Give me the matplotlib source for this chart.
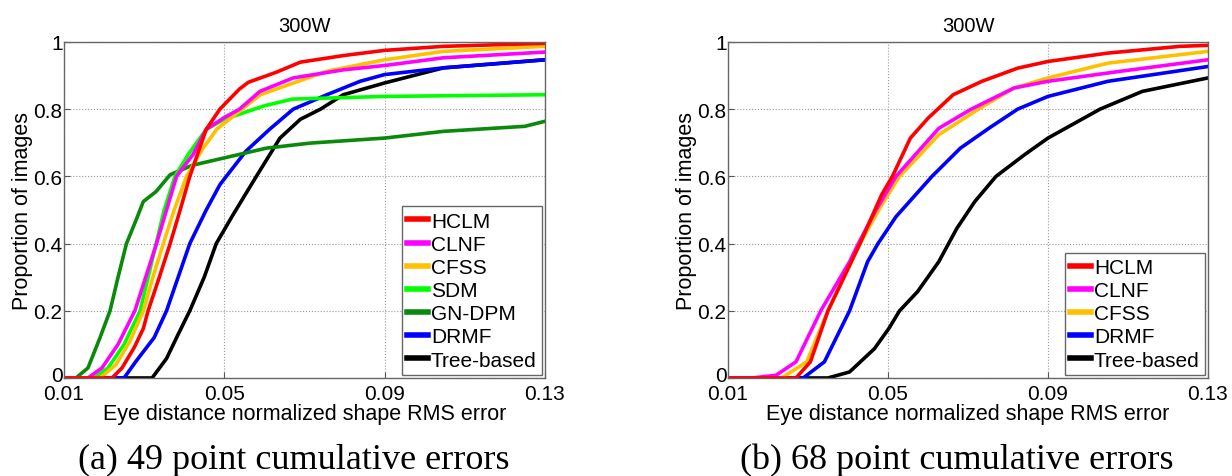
import matplotlib
matplotlib.use("Agg")
import matplotlib.pyplot as plt
from matplotlib.transforms import ScaledTranslation

plt.rcParams['font.family'] = ['Liberation Sans', 'DejaVu Sans']

# ---- 49 point (left) ----
hclm49_x = [0.010, 0.022, 0.0245, 0.0275, 0.0298, 0.031, 0.0338, 0.0365, 0.039, 0.0414, 0.0455, 0.0489, 0.0538, 0.056, 0.063, 0.069, 0.080, 0.090, 0.1047, 0.130]
hclm49_y = [0.0, 0.0, 0.03, 0.09, 0.147, 0.2, 0.3, 0.4, 0.5, 0.6, 0.74, 0.8, 0.86, 0.88, 0.91, 0.94, 0.96, 0.975, 0.987, 0.996]
clnf49_x = [0.010, 0.016, 0.0195, 0.0235, 0.0277, 0.0304, 0.0331, 0.0356, 0.0381, 0.0422, 0.0455, 0.050, 0.0538, 0.0589, 0.0672, 0.0797, 0.090, 0.1047, 0.130]
clnf49_y = [0.0, 0.0, 0.03, 0.1, 0.2, 0.3, 0.4, 0.5, 0.6, 0.665, 0.74, 0.775, 0.8, 0.853, 0.893, 0.917, 0.93, 0.953, 0.97]
cfss49_x = [0.010, 0.019, 0.023, 0.0265, 0.0298, 0.0322, 0.0348, 0.0375, 0.0406, 0.0445, 0.0481, 0.050, 0.059, 0.0756, 0.090, 0.1047, 0.130]
cfss49_y = [0.0, 0.0, 0.04, 0.11, 0.2, 0.3, 0.4, 0.5, 0.6, 0.68, 0.74, 0.758, 0.843, 0.913, 0.947, 0.972, 0.987]
sdm49_x = [0.010, 0.0175, 0.021, 0.025, 0.029, 0.031, 0.033, 0.035, 0.0377, 0.041, 0.0455, 0.050, 0.060, 0.067, 0.090, 0.130]
sdm49_y = [0.0, 0.0, 0.03, 0.1, 0.2, 0.3, 0.4, 0.5, 0.6, 0.665, 0.74, 0.77, 0.81, 0.83, 0.838, 0.843]
gndpm49_x = [0.010, 0.013, 0.016, 0.019, 0.0215, 0.0235, 0.0256, 0.028, 0.0298, 0.033, 0.0365, 0.042, 0.050, 0.0605, 0.0714, 0.090, 0.1047, 0.125, 0.130]
gndpm49_y = [0.0, 0.0, 0.03, 0.12, 0.2, 0.3, 0.4, 0.47, 0.525, 0.555, 0.605, 0.633, 0.655, 0.684, 0.699, 0.714, 0.734, 0.749, 0.764]
drmf49_x = [0.010, 0.025, 0.028, 0.0325, 0.0356, 0.0385, 0.0414, 0.0455, 0.0489, 0.0505, 0.0554, 0.0613, 0.0672, 0.0756, 0.0839, 0.090, 0.1047, 0.130]
drmf49_y = [0.0, 0.0, 0.05, 0.12, 0.2, 0.3, 0.4, 0.5, 0.575, 0.6, 0.675, 0.74, 0.8, 0.843, 0.883, 0.903, 0.923, 0.947]
tree49_x = [0.010, 0.032, 0.0356, 0.0385, 0.0414, 0.045, 0.048, 0.0522, 0.058, 0.0639, 0.069, 0.074, 0.0797, 0.090, 0.1047, 0.130]
tree49_y = [0.0, 0.0, 0.058, 0.13, 0.2, 0.3, 0.4, 0.486, 0.6, 0.714, 0.77, 0.8, 0.843, 0.878, 0.923, 0.947]

# ---- 68 point (right) ----
hclm68_x = [0.010, 0.027, 0.0306, 0.035, 0.039, 0.043, 0.0484, 0.0511, 0.0556, 0.060, 0.0663, 0.0735, 0.0824, 0.090, 0.105, 0.123, 0.130]
hclm68_y = [0.0, 0.0, 0.048, 0.2, 0.3, 0.4, 0.545, 0.6, 0.714, 0.773, 0.843, 0.883, 0.922, 0.942, 0.967, 0.987, 0.99]
clnf68_x = [0.010, 0.016, 0.022, 0.027, 0.0332, 0.0404, 0.0426, 0.047, 0.052, 0.0627, 0.0708, 0.0815, 0.090, 0.1076, 0.130]
clnf68_y = [0.0, 0.0, 0.008, 0.048, 0.2, 0.346, 0.4, 0.5, 0.6, 0.743, 0.8, 0.863, 0.883, 0.912, 0.947]
cfss68_x = [0.010, 0.0234, 0.0297, 0.035, 0.039, 0.043, 0.0484, 0.0529, 0.0627, 0.0726, 0.0815, 0.090, 0.105, 0.130]
cfss68_y = [0.0, 0.0, 0.048, 0.2, 0.3, 0.4, 0.515, 0.6, 0.724, 0.8, 0.863, 0.893, 0.937, 0.972]
drmf68_x = [0.010, 0.0288, 0.0341, 0.0404, 0.0449, 0.0475, 0.052, 0.061, 0.0681, 0.0752, 0.0824, 0.090, 0.105, 0.130]
drmf68_y = [0.0, 0.0, 0.048, 0.2, 0.346, 0.4, 0.48, 0.6, 0.684, 0.743, 0.8, 0.838, 0.883, 0.927]
tree68_x = [0.010, 0.035, 0.0404, 0.0466, 0.0502, 0.0529, 0.0574, 0.0627, 0.0672, 0.0717, 0.077, 0.0842, 0.090, 0.103, 0.1136, 0.130]
tree68_y = [0.0, 0.0, 0.018, 0.087, 0.147, 0.2, 0.257, 0.346, 0.445, 0.525, 0.6, 0.665, 0.714, 0.8, 0.853, 0.893]

colors = {
    'HCLM': '#ff0000',
    'CLNF': '#ff00ff',
    'CFSS': '#ffc000',
    'SDM': '#00ff00',
    'GN-DPM': '#0a8a0a',
    'DRMF': '#0000ff',
    'Tree-based': '#000000',
}

left_series = [
    ('HCLM', hclm49_x, hclm49_y),
    ('CLNF', clnf49_x, clnf49_y),
    ('CFSS', cfss49_x, cfss49_y),
    ('SDM', sdm49_x, sdm49_y),
    ('GN-DPM', gndpm49_x, gndpm49_y),
    ('DRMF', drmf49_x, drmf49_y),
    ('Tree-based', tree49_x, tree49_y),
]
right_series = [
    ('HCLM', hclm68_x, hclm68_y),
    ('CLNF', clnf68_x, clnf68_y),
    ('CFSS', cfss68_x, cfss68_y),
    ('DRMF', drmf68_x, drmf68_y),
    ('Tree-based', tree68_x, tree68_y),
]

xticks = [0.01, 0.05, 0.09, 0.13]
xtick_labels = ['0.01', '0.05', '0.09', '0.13']
yticks = [0, 0.2, 0.4, 0.6, 0.8, 1.0]
ytick_labels = ['0', '0.2', '0.4', '0.6', '0.8', '1']

fig = plt.figure(figsize=(12.32, 4.77), dpi=100)
ax1 = fig.add_axes([0.0519, 0.2055, 0.3904, 0.7044])
ax2 = fig.add_axes([0.5909, 0.2055, 0.3896, 0.7044])

captions = ['(a) 49 point cumulative errors', '(b) 68 point cumulative errors']

for ax, series, cap in [(ax1, left_series, captions[0]), (ax2, right_series, captions[1])]:
    # draw in reverse so HCLM ends up on top
    for name, xs, ys in reversed(series):
        ax.plot(xs, ys, color=colors[name], lw=2.6, label=name, solid_joinstyle='round')
    ax.set_xlim(0.01, 0.13)
    ax.set_ylim(0, 1)
    ax.set_xticks(xticks)
    ax.set_xticklabels(xtick_labels)
    ax.set_yticks(yticks)
    ax.set_yticklabels(ytick_labels)
    ax.tick_params(direction='in', length=4, labelsize=15, color='#555555')
    ax.tick_params(axis='x', pad=4)
    ax.tick_params(axis='y', pad=1)
    # nudge the "0" y label up a little so it clears "0.01"
    zero = ax.get_yticklabels()[0]
    zero.set_transform(zero.get_transform() + ScaledTranslation(0, 3 / 72, fig.dpi_scale_trans))
    ax.grid(True, linestyle=':', color='#999999', linewidth=0.8)
    for sp in ax.spines.values():
        sp.set_color('#666666')
        sp.set_linewidth(1.0)
    ax.set_title('300W', fontsize=14.5, pad=8)
    ax.set_xlabel('Eye distance normalized shape RMS error', fontsize=15.5, labelpad=0)
    ax.set_ylabel('Proportion of images', fontsize=15.5, labelpad=0)
    handles, labels = ax.get_legend_handles_labels()
    leg = ax.legend(handles[::-1], labels[::-1], loc='lower right', fontsize=15,
                    handlelength=1.0, handletextpad=0.15, labelspacing=0.2,
                    borderpad=0.25, borderaxespad=0.15, fancybox=False, framealpha=1)
    leg.get_frame().set_edgecolor('#666666')
    for line in leg.get_lines():
        line.set_linewidth(4)
    bb = ax.get_position()
    fig.text(bb.x0 + bb.width / 2 - 0.009, 0.016, cap, ha='center', va='baseline',
             fontsize=26, family='Liberation Serif')

fig.savefig('out.png', dpi=100)
